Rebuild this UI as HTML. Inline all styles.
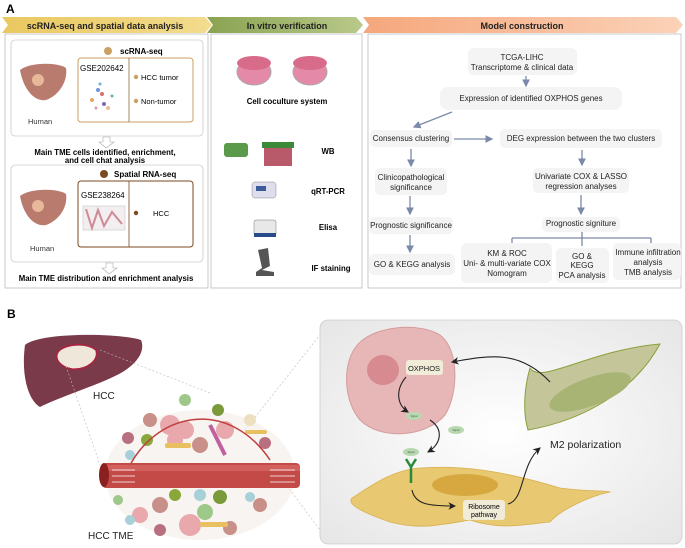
<!DOCTYPE html>
<html><head><meta charset="utf-8"><style>
html,body{margin:0;padding:0;background:#fff;}
svg{display:block;font-family:"Liberation Sans",Arial,sans-serif;}
</style></head><body>
<svg width="685" height="548" viewBox="0 0 685 548" xmlns="http://www.w3.org/2000/svg">
<defs>
<linearGradient id="yb" x1="0" x2="1"><stop offset="0" stop-color="#e9c85f"/><stop offset="1" stop-color="#f3dc8e"/></linearGradient>
<linearGradient id="gb" x1="0" x2="1"><stop offset="0" stop-color="#8aa352"/><stop offset="1" stop-color="#b9c98a"/></linearGradient>
<linearGradient id="ob" x1="0" x2="1"><stop offset="0" stop-color="#f5a77c"/><stop offset="1" stop-color="#fbd2b8"/></linearGradient>
<radialGradient id="pg" cx="0.5" cy="0.5" r="0.7"><stop offset="0" stop-color="#ffffff"/><stop offset="1" stop-color="#e6e6e6"/></radialGradient>
<marker id="ar" markerWidth="6" markerHeight="6" refX="5" refY="3" orient="auto"><path d="M0,0 L6,3 L0,6 Z" fill="#7a8aa8"/></marker>
<marker id="ak" markerWidth="7" markerHeight="7" refX="6" refY="3.5" orient="auto"><path d="M0,0 L7,3.5 L0,7 L2,3.5 Z" fill="#222"/></marker>
</defs>
<text x="6" y="13" font-size="12" font-weight="bold">A</text>
<path d="M2,17 L205,17 L212,25 L205,33 L2,33 L8,25 Z" fill="url(#yb)"/>
<text x="105" y="29" font-size="9" font-weight="bold" text-anchor="middle" fill="#222">scRNA-seq and spatial data analysis</text>
<path d="M207,17 L356,17 L363,25 L356,33 L207,33 L213,25 Z" fill="url(#gb)"/>
<text x="287" y="29" font-size="9" font-weight="bold" text-anchor="middle" fill="#222">In vitro verification</text>
<path d="M363,17 L676,17 L683,25 L676,33 L363,33 L369,25 Z" fill="url(#ob)"/>
<text x="522" y="29" font-size="9" font-weight="bold" text-anchor="middle" fill="#222">Model construction</text>
<rect x="5" y="34" width="203" height="254" fill="#fff" stroke="#bbb" stroke-width="0.8"/>
<rect x="211" y="34" width="151" height="254" fill="#fff" stroke="#bbb" stroke-width="0.8"/>
<rect x="368" y="34" width="313" height="254" fill="#fff" stroke="#bbb" stroke-width="0.8"/>
<rect x="11" y="40" width="192" height="96" rx="4" fill="#fff" stroke="#ccc" stroke-width="0.8"/>
<circle cx="108" cy="51" r="4" fill="#c9a261"/>
<text x="120" y="54" font-size="8" font-weight="bold">scRNA-seq</text>
<rect x="78" y="58" width="115" height="64" rx="3" fill="#fff" stroke="#c9a261" stroke-width="1"/>
<line x1="129" y1="58" x2="129" y2="122" stroke="#8a6a3a" stroke-width="0.8"/>
<text x="80" y="71" font-size="8">GSE202642</text>
<circle cx="136" cy="77" r="2.2" fill="#c9a261"/><text x="141" y="80" font-size="7.5">HCC tumor</text>
<circle cx="136" cy="101" r="2.2" fill="#c9a261"/><text x="141" y="104" font-size="7.5">Non-tumor</text>
<g opacity="0.8"><circle cx="98" cy="90" r="2" fill="#4a7ad0"/><circle cx="102" cy="94" r="2" fill="#d04a4a"/><circle cx="92" cy="100" r="2" fill="#e09040"/><circle cx="104" cy="104" r="2" fill="#5a4aa0"/><circle cx="112" cy="96" r="1.5" fill="#4aa090"/><circle cx="100" cy="84" r="1.5" fill="#4a9ad0"/><circle cx="108" cy="108" r="2" fill="#e0b080"/><circle cx="96" cy="108" r="1.5" fill="#d080a0"/></g>
<path d="M20,70 C30,62 58,62 66,68 C68,80 60,95 46,100 C36,102 24,92 20,70Z" fill="#a85a4a" opacity="0.8"/>
<circle cx="38" cy="80" r="6" fill="#e8b89a"/>
<text x="28" y="124" font-size="7.5" fill="#333">Human</text>
<path d="M103,137 L110,137 L110,142 L114,142 L106,148 L99,142 L103,142Z" fill="#fff" stroke="#aaa" stroke-width="0.6"/>
<text x="105" y="155" font-size="7.8" font-weight="bold" text-anchor="middle">Main TME cells identified, enrichment,</text>
<text x="105" y="163" font-size="7.8" font-weight="bold" text-anchor="middle">and cell chat analysis</text>
<rect x="11" y="165" width="192" height="97" rx="4" fill="#fff" stroke="#ccc" stroke-width="0.8"/>
<circle cx="104" cy="174" r="4" fill="#7a4a20"/>
<text x="114" y="177" font-size="8" font-weight="bold">Spatial RNA-seq</text>
<rect x="78" y="181" width="115" height="66" rx="3" fill="#fff" stroke="#7a4a20" stroke-width="1"/>
<line x1="129" y1="181" x2="129" y2="247" stroke="#7a4a20" stroke-width="0.8"/>
<text x="81" y="198" font-size="8">GSE238264</text>
<circle cx="136" cy="213" r="2.2" fill="#7a4a20"/><text x="153" y="216" font-size="7.5">HCC</text>
<rect x="83" y="206" width="42" height="24" fill="#f3eef0" stroke="#bbb" stroke-width="0.5"/>
<path d="M86,209 L92,228 L98,210 L104,226 L112,212 L122,224" stroke="#c06070" stroke-width="2" fill="none" opacity="0.7"/>
<path d="M20,196 C30,188 58,188 66,194 C68,206 60,220 46,225 C36,227 24,218 20,196Z" fill="#a85a4a" opacity="0.8"/>
<circle cx="38" cy="206" r="6" fill="#e8b89a"/>
<text x="30" y="251" font-size="7.5" fill="#333">Human</text>
<path d="M106,263 L113,263 L113,268 L117,268 L109,274 L102,268 L106,268Z" fill="#fff" stroke="#aaa" stroke-width="0.6"/>
<text x="106" y="281" font-size="7.8" font-weight="bold" text-anchor="middle">Main TME distribution and enrichment analysis</text>
<g>
<ellipse cx="254" cy="72" rx="17" ry="13" fill="#e48aa8" stroke="#aaa" stroke-width="1"/>
<ellipse cx="254" cy="63" rx="17" ry="7" fill="#d86a8a"/>
<ellipse cx="310" cy="72" rx="17" ry="13" fill="#e48aa8" stroke="#aaa" stroke-width="1"/>
<ellipse cx="310" cy="63" rx="17" ry="7" fill="#d86a8a"/>
</g>
<text x="287" y="104" font-size="7.8" font-weight="bold" text-anchor="middle">Cell coculture system</text>
<rect x="224" y="143" width="24" height="14" rx="3" fill="#5a9a4a"/>
<rect x="262" y="142" width="32" height="6" fill="#3a8a3a"/>
<rect x="264" y="148" width="28" height="18" fill="#b85a6a"/>
<text x="328" y="154" font-size="7.8" font-weight="bold" text-anchor="middle">WB</text>
<rect x="252" y="182" width="24" height="16" rx="3" fill="#dde" stroke="#888" stroke-width="0.5"/>
<rect x="256" y="186" width="10" height="5" fill="#3a5a9a"/>
<text x="328" y="194" font-size="7.8" font-weight="bold" text-anchor="middle">qRT-PCR</text>
<rect x="254" y="220" width="22" height="16" rx="2" fill="#e8e8e8" stroke="#777" stroke-width="0.5"/>
<rect x="254" y="233" width="22" height="4" fill="#2a4a8a"/>
<text x="328" y="230" font-size="7.8" font-weight="bold" text-anchor="middle">Elisa</text>
<path d="M258,250 L268,248 L270,266 L262,270 L274,272 L274,276 L256,276 L256,272 L262,268Z" fill="#555"/>
<text x="331" y="271" font-size="7.8" font-weight="bold" text-anchor="middle">IF staining</text>
<g fill="#f4f4f4">
<rect x="468" y="48" width="109" height="27" rx="6"/>
<rect x="440" y="87" width="182" height="23" rx="8"/>
<rect x="370" y="130" width="82" height="17" rx="5"/>
<rect x="500" y="129" width="162" height="19" rx="5"/>
<rect x="375" y="168" width="72" height="27" rx="5"/>
<rect x="533" y="168" width="96" height="25" rx="5"/>
<rect x="369" y="217" width="84" height="17" rx="5"/>
<rect x="542" y="217" width="78" height="15" rx="5"/>
<rect x="369" y="254" width="86" height="21" rx="5"/>
<rect x="461" y="243" width="91" height="40" rx="6"/>
<rect x="556" y="248" width="53" height="35" rx="5"/>
<rect x="613" y="243" width="68" height="37" rx="5"/>
</g>
<g font-size="8" fill="#222" text-anchor="middle">
<text x="522" y="60">TCGA-LIHC</text><text x="522" y="70">Transcriptome &amp; clinical data</text>
<text x="531" y="101">Expression of identified OXPHOS genes</text>
<text x="411" y="141">Consensus clustering</text>
<text x="581" y="141">DEG expression between the two clusters</text>
<text x="411" y="180">Clinicopathological</text><text x="411" y="190">significance</text>
<text x="581" y="179">Univariate COX &amp; LASSO</text><text x="581" y="189">regression analyses</text>
<text x="411" y="228">Prognostic significance</text>
<text x="581" y="226">Prognostic signiture</text>
<text x="412" y="267">GO &amp; KEGG analysis</text>
<text x="507" y="256">KM &amp; ROC</text><text x="507" y="266">Uni- &amp; multi-variate COX</text><text x="507" y="276">Nomogram</text>
<text x="582" y="259">GO &amp;</text><text x="582" y="268">KEGG</text><text x="582" y="278">PCA analysis</text>
<text x="648" y="255">Immune infiltration</text><text x="648" y="265">analysis</text><text x="648" y="275">TMB analysis</text>
</g>
<g stroke="#7a8aa8" stroke-width="1.3" fill="none" marker-end="url(#ar)">
<line x1="526" y1="76" x2="526" y2="86"/>
<line x1="452" y1="112" x2="414" y2="127"/>
<line x1="454" y1="139" x2="492" y2="139"/>
<line x1="411" y1="149" x2="411" y2="166"/>
<line x1="582" y1="150" x2="582" y2="165"/>
<line x1="410" y1="196" x2="410" y2="214"/>
<line x1="581" y1="195" x2="581" y2="214"/>
<line x1="410" y1="235" x2="410" y2="252"/>
</g>
<g stroke="#7a8aa8" stroke-width="1.3" fill="none">
<line x1="582" y1="232" x2="582" y2="246"/>
<line x1="512" y1="238" x2="651" y2="238"/>
<line x1="512" y1="238" x2="512" y2="243"/><line x1="651" y1="238" x2="651" y2="243"/>
</g>
<text x="7" y="318" font-size="12" font-weight="bold">B</text>
<path d="M25,345 C40,332 120,333 141,340 C146,352 136,366 115,376 C95,386 62,396 40,407 C28,400 21,375 25,345Z" fill="#7a3a4a"/>
<path d="M58,352 C64,344 86,342 96,350 C99,360 88,370 72,369 C60,367 54,359 58,352Z" fill="#efe8da" stroke="#b02040" stroke-width="1.5"/>
<text x="93" y="399" font-size="10" fill="#222">HCC</text>
<g stroke="#bbb" stroke-width="0.6" stroke-dasharray="2,2" fill="none">
<line x1="100" y1="350" x2="210" y2="393"/><line x1="66" y1="366" x2="100" y2="465"/>
<line x1="245" y1="430" x2="320" y2="335"/><line x1="275" y1="470" x2="320" y2="530"/>
</g>
<ellipse cx="200" cy="475" rx="95" ry="65" fill="#f3ece8" opacity="0.6"/>
<g>
<circle cx="170" cy="425" r="10" fill="#e8a8ac"/><circle cx="185" cy="430" r="9" fill="#e8a8ac"/><circle cx="175" cy="440" r="8" fill="#e8a8ac"/>
<circle cx="225" cy="430" r="9" fill="#e8a8ac"/><circle cx="185" cy="400" r="6" fill="#9ec78a"/><circle cx="218" cy="410" r="6" fill="#7a9a3a"/>
<circle cx="150" cy="420" r="7" fill="#c89088"/><circle cx="128" cy="438" r="6" fill="#b87080"/><circle cx="147" cy="440" r="6" fill="#8aa83a"/>
<circle cx="130" cy="455" r="5" fill="#a8d0d8"/><circle cx="200" cy="445" r="8" fill="#c89088"/><circle cx="250" cy="420" r="6" fill="#ece0c0"/>
<circle cx="265" cy="443" r="6" fill="#b87080"/><circle cx="160" cy="505" r="8" fill="#c89088"/><circle cx="140" cy="515" r="8" fill="#e8a8ac"/>
<circle cx="175" cy="495" r="6" fill="#8aa83a"/><circle cx="200" cy="495" r="6" fill="#a8d0d8"/><circle cx="220" cy="497" r="7" fill="#7a9a3a"/>
<circle cx="190" cy="525" r="11" fill="#e8a8ac"/><circle cx="205" cy="512" r="8" fill="#9ec78a"/><circle cx="230" cy="528" r="7" fill="#c89088"/>
<circle cx="260" cy="505" r="7" fill="#c89088"/><circle cx="250" cy="497" r="5" fill="#a8d0d8"/><circle cx="118" cy="500" r="5" fill="#9ec78a"/>
<circle cx="160" cy="530" r="6" fill="#b87080"/><circle cx="130" cy="520" r="5" fill="#a8d0d8"/>
<rect x="165" y="443" width="26" height="5" rx="2" fill="#e8c060"/><rect x="200" y="522" width="28" height="5" rx="2" fill="#e8c060"/><rect x="245" y="430" width="22" height="4" rx="2" fill="#e8c060"/>
<path d="M210,425 L225,455" stroke="#c060a0" stroke-width="4"/>
</g>
<path d="M130,465 C160,410 230,400 270,460" stroke="#c04040" stroke-width="1.5" fill="none"/>
<rect x="102" y="463" width="198" height="25" rx="4" fill="#c44a48"/>
<rect x="102" y="465" width="198" height="6" fill="#d86a66" opacity="0.7"/>
<ellipse cx="104" cy="475" rx="5" ry="12" fill="#8a2020"/>
<g stroke="#fff" stroke-width="0.8"><line x1="112" y1="470" x2="135" y2="470"/><line x1="112" y1="476" x2="135" y2="476"/><line x1="112" y1="482" x2="135" y2="482"/><line x1="270" y1="470" x2="295" y2="470"/><line x1="270" y1="476" x2="295" y2="476"/><line x1="270" y1="482" x2="295" y2="482"/></g>
<text x="88" y="539" font-size="10" fill="#222">HCC TME</text>
<rect x="320" y="320" width="362" height="224" rx="8" fill="url(#pg)" stroke="#ccc" stroke-width="0.8"/>
<path d="M355,348 C370,325 420,322 440,335 C460,350 458,395 445,415 C425,438 380,440 360,420 C343,400 343,365 355,348Z" fill="#e7b6b6" stroke="#d49c9c" stroke-width="1"/>
<ellipse cx="383" cy="370" rx="16" ry="15" fill="#d78a90"/>
<rect x="406" y="360" width="37" height="15" rx="3" fill="#f1ecd8"/>
<text x="424" y="371" font-size="7.5" text-anchor="middle" fill="#222">OXPHOS</text>
<path d="M530,368 C540,385 590,350 660,344 C635,390 585,420 528,430 C522,410 525,385 530,368Z" fill="#c5c59a" stroke="#8aa03a" stroke-width="1"/>
<ellipse cx="590" cy="392" rx="43" ry="14" transform="rotate(-20 590 392)" fill="#a8b474"/>
<path d="M352,498 C365,490 390,470 420,468 C460,465 500,470 560,488 C590,492 605,490 610,492 C590,496 560,510 550,522 C520,525 500,530 470,520 C440,525 420,530 390,522 C370,515 345,505 352,498Z" fill="#e8c870" stroke="#d8b050" stroke-width="0.8"/>
<ellipse cx="465" cy="485" rx="33" ry="11" fill="#d8a840"/>
<rect x="463" y="500" width="42" height="20" rx="3" fill="#f1ecd8"/>
<text x="484" y="509" font-size="7" text-anchor="middle">Ribosome</text><text x="484" y="517" font-size="7" text-anchor="middle">pathway</text>
<ellipse cx="414" cy="416" rx="8" ry="4" fill="#b7d9b0"/><ellipse cx="456" cy="430" rx="8" ry="4" fill="#b7d9b0"/><ellipse cx="411" cy="452" rx="8" ry="4" fill="#b7d9b0"/>
<g font-size="2.5" text-anchor="middle" fill="#555"><text x="414" y="417">Signal</text><text x="456" y="431">Signal</text><text x="411" y="453">Signal</text></g>
<path d="M406,459 L411,467 L416,459 M411,467 L411,483" stroke="#2a8a3a" stroke-width="2.5" fill="none"/>
<text x="550" y="448" font-size="10.5" fill="#222">M2 polarization</text>
<g stroke="#222" stroke-width="1.1" fill="none" marker-end="url(#ak)">
<path d="M550,382 C520,350 490,355 452,362"/>
<path d="M406,377 C395,390 397,405 408,412"/>
<path d="M430,420 C445,430 440,445 428,452"/>
<path d="M412,490 C415,505 430,506 455,506"/>
<path d="M508,504 C525,500 520,465 540,448"/>
</g>
</svg>
</body></html>
